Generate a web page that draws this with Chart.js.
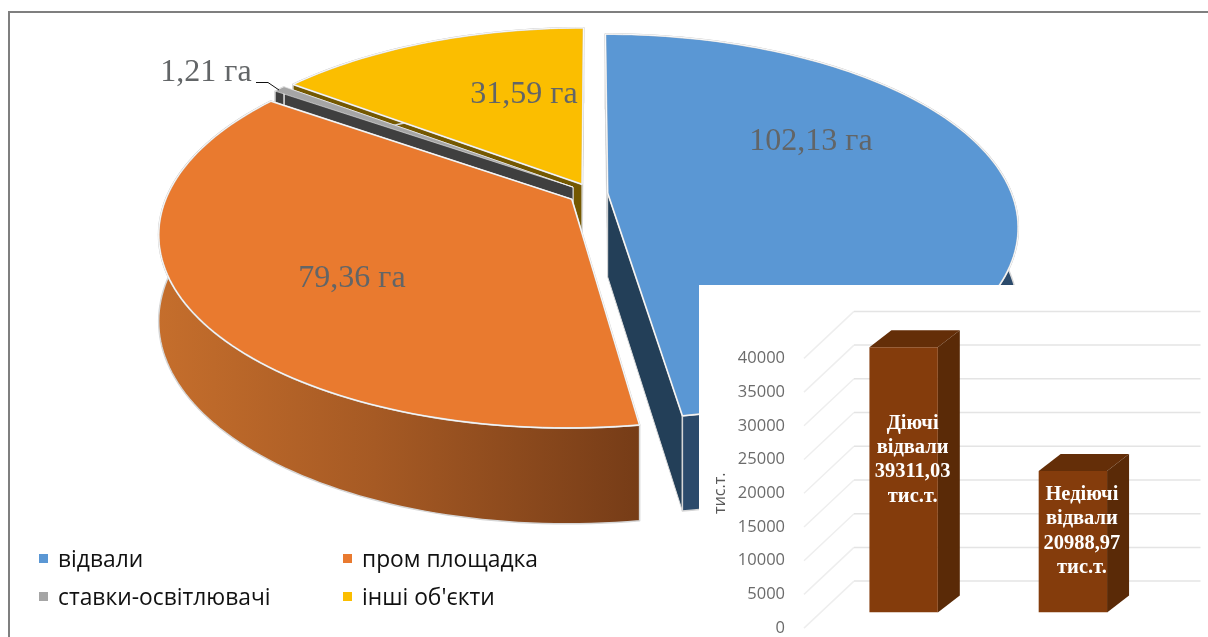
<!DOCTYPE html>
<html>
<head>
<meta charset="utf-8">
<script src="https://cdn.jsdelivr.net/npm/chart.js@4"></script>
<style>
    html, body { margin: 0; padding: 0; background: #fff; }
    #stage { position: relative; width: 1208px; height: 637px; overflow: hidden; background: #fff; }
    #frame { position: absolute; left: 8px; top: 11px; right: -4px; bottom: -4px; border: 2px solid #7f7f7f; }
    #pieChart { position: absolute; left: 0; top: 0; }
    #insetBox { position: absolute; left: 699px; top: 285px; width: 509px; height: 352px; background: #fff; }
    #dumpChart { filter: blur(0.7px); }
    .legend-item { position: absolute; font: 22.8px "Open Sans", sans-serif; color: #111; white-space: nowrap; line-height: 26px; }
    .legend-item i { position: absolute; left: -19px; top: 8px; width: 9px; height: 9px; }
</style>
</head>
<body>
<div id="stage">
    <div id="frame"></div>
    <canvas id="pieChart" width="1208" height="637"></canvas>
    <div id="legend"></div>
    <div id="insetBox"><canvas id="dumpChart" width="509" height="364"></canvas></div>
</div>
<script>
// Land use, hectares
const landCategories = ['відвали', 'пром площадка', 'ставки-освітлювачі', 'інші об\'єкти'];
const landAreas = [102.13, 79.36, 1.21, 31.59];
const landColors = ['#5a97d4', '#e97a2f', '#a5a5a5', '#fbbe00'];
const landWalls = ['#233f58', '#7a3e18', '#3f3f3f', '#745800'];
const sliceOffsets = [12, 18, 18, 17];

// Waste dumps, thousand tonnes
const dumpCategories = ['Діючі', 'Недіючі'];
const dumpTonnage = [39311.03, 20988.97];
const dumpCaptions = [['Діючі', 'відвали', '39311,03', 'тис.т.'], ['Недіючі', 'відвали', '20988,97', 'тис.т.']];
const tonnageTicks = [0, 5000, 10000, 15000, 20000, 25000, 30000, 35000, 40000];

const serif = '"Liberation Serif", serif';

// Perspective of the tilted pie: unit disc coords -> canvas pixels
const view = { x: 592, y: 193.5, a: 404, b: 186.7, k: 0.174, depth: 84, depthK: 0.12 };
function project(u, v, lowered) {
    const w = 1 - view.k * v;
    return {
        x: view.x + view.a * u / w,
        y: view.y + view.b * v / w + (lowered ? view.depth / (1 - view.depthK * v) : 0)
    };
}

// Outline of one slice in disc coords, chart.js angles start at -PI/2
function sliceShape(arc) {
    const r = arc.outerRadius;
    const mid = (arc.startAngle + arc.endAngle) / 2;
    const shift = (arc.options.offset || 0) / r;
    const ox = Math.cos(mid) * shift, oy = Math.sin(mid) * shift;
    const rim = [];
    const steps = Math.max(2, Math.ceil((arc.endAngle - arc.startAngle) * 40));
    for (let i = 0; i <= steps; i++) {
        const t = arc.startAngle + (arc.endAngle - arc.startAngle) * i / steps;
        rim.push([ox + Math.cos(t), oy + Math.sin(t)]);
    }
    return { apex: [ox, oy], rim: rim };
}

function tracePoints(ctx, pts) {
    ctx.beginPath();
    pts.forEach((p, i) => i ? ctx.lineTo(p.x, p.y) : ctx.moveTo(p.x, p.y));
}

function fillQuad(ctx, a, b, fill) {
    tracePoints(ctx, [project(a[0], a[1]), project(b[0], b[1]), project(b[0], b[1], true), project(a[0], a[1], true)]);
    ctx.closePath();
    ctx.fillStyle = fill;
    ctx.fill();
    ctx.strokeStyle = '#dcdcdc';
    ctx.lineWidth = 1;
    ctx.stroke();
}

function rimFill(ctx, index) {
    if (index !== 1) return landWalls[index];
    const g = ctx.createLinearGradient(158, 0, 640, 0);
    g.addColorStop(0, '#c56e2c');
    g.addColorStop(0.45, '#a65a24');
    g.addColorStop(1, '#763c17');
    return g;
}

function drawSlice(ctx, arc, index) {
    const shape = sliceShape(arc);
    const first = shape.rim[0], last = shape.rim[shape.rim.length - 1];

    // side walls
    fillQuad(ctx, shape.apex, first, landWalls[index]);
    fillQuad(ctx, shape.apex, last, landWalls[index]);

    // outer wall
    const top = shape.rim.map(p => project(p[0], p[1]));
    const bottom = shape.rim.map(p => project(p[0], p[1], true)).reverse();
    tracePoints(ctx, top.concat(bottom));
    ctx.closePath();
    ctx.fillStyle = index === 0 ? '#2b4a6b' : rimFill(ctx, index);
    ctx.fill();
    ctx.strokeStyle = '#d6d6d6';
    ctx.lineWidth = 1.5;
    ctx.stroke();

    // top face, the thin slice only gets a hairline so its colour still shows
    const thin = arc.endAngle - arc.startAngle < 0.1;
    tracePoints(ctx, [project(shape.apex[0], shape.apex[1])].concat(top));
    ctx.closePath();
    ctx.fillStyle = landColors[index];
    ctx.fill();
    ctx.lineJoin = 'round';
    if (!thin) {
        ctx.strokeStyle = '#d6d6d6';
        ctx.lineWidth = 1.8;
        ctx.stroke();
    }
    ctx.strokeStyle = '#fff';
    ctx.lineWidth = thin ? 0.5 : 0.9;
    ctx.stroke();
}

const tiltedPie = {
    id: 'tiltedPie',
    beforeDatasetsDraw(chart) {
        const arcs = chart.getDatasetMeta(0).data;
        // back slices first, the front ones cover them
        [3, 2, 0, 1].forEach(i => drawSlice(chart.ctx, arcs[i], i));
        return false;
    },
    afterDraw(chart) {
        const ctx = chart.ctx;
        const spots = chart.options.plugins.tiltedPie.labelSpots;
        ctx.save();
        ctx.font = '32px ' + serif;
        ctx.fillStyle = '#626567';
        ctx.textAlign = 'center';
        ctx.textBaseline = 'middle';
        landAreas.forEach((area, i) => {
            ctx.fillText(area.toFixed(2).replace('.', ',') + ' га', spots[i][0], spots[i][1]);
        });
        // leader of the smallest slice
        ctx.strokeStyle = '#111';
        ctx.lineWidth = 1;
        ctx.beginPath();
        ctx.moveTo(256, 82.5);
        ctx.lineTo(268, 82.5);
        ctx.lineTo(279, 90);
        ctx.stroke();
        ctx.restore();
    }
};

new Chart(document.getElementById('pieChart'), {
    type: 'pie',
    data: {
        labels: landCategories,
        datasets: [{ data: landAreas, backgroundColor: landColors, offset: sliceOffsets }]
    },
    options: {
        responsive: false,
        animation: false,
        plugins: {
            legend: { display: false },
            tooltip: { enabled: false },
            tiltedPie: { labelSpots: [[811, 142], [352, 279], [206, 73], [524, 95]] }
        }
    },
    plugins: [tiltedPie]
});

// Legend sits under the pie in two columns
const legendCells = [[58, 546], [362, 546], [58, 584], [362, 584]];
const legendBox = document.getElementById('legend');
landCategories.forEach((name, i) => {
    const item = document.createElement('div');
    item.className = 'legend-item';
    item.style.left = legendCells[i][0] + 'px';
    item.style.top = legendCells[i][1] + 'px';
    item.innerHTML = `<i style="background:${landColors[i]}"></i>${name}`;
    legendBox.appendChild(item);
});

// Depth of the column chart room and of the columns
const room = { dx: 50, dy: 47 };
const column = { dx: 22, dy: 17, shiftX: 15, shiftY: 15.7 };

const columnRoom = {
    id: 'columnRoom',
    beforeDatasetsDraw(chart) {
        const ctx = chart.ctx, yScale = chart.scales.y, area = chart.chartArea;
        ctx.save();
        ctx.lineWidth = 1.5;
        tonnageTicks.forEach(t => {
            const y = yScale.getPixelForValue(t);
            ctx.strokeStyle = '#eeeeee';
            ctx.beginPath();
            ctx.moveTo(area.left, y);
            ctx.lineTo(area.left + room.dx, y - room.dy);
            ctx.stroke();
            ctx.strokeStyle = '#e4e4e4';
            ctx.beginPath();
            ctx.moveTo(area.left + room.dx, y - room.dy);
            ctx.lineTo(area.right + 58, y - room.dy);
            ctx.stroke();
        });
        ctx.restore();

        // sides and tops behind the front faces
        chart.getDatasetMeta(0).data.forEach(bar => {
            const left = bar.x - bar.width / 2 + column.shiftX;
            const right = bar.x + bar.width / 2 + column.shiftX;
            const top = bar.y - column.shiftY;
            const base = bar.base - column.shiftY;
            ctx.fillStyle = '#642e08';
            ctx.beginPath();
            ctx.moveTo(left, top);
            ctx.lineTo(left + column.dx, top - column.dy);
            ctx.lineTo(right + column.dx, top - column.dy);
            ctx.lineTo(right, top);
            ctx.closePath();
            ctx.fill();
            ctx.fillStyle = '#5a2a07';
            ctx.beginPath();
            ctx.moveTo(right, top);
            ctx.lineTo(right + column.dx, top - column.dy);
            ctx.lineTo(right + column.dx, base - column.dy);
            ctx.lineTo(right, base);
            ctx.closePath();
            ctx.fill();
        });
        ctx.save();
        ctx.translate(column.shiftX, -column.shiftY);
    },
    afterDatasetsDraw(chart) {
        const ctx = chart.ctx;
        ctx.restore();
        ctx.save();
        ctx.font = 'bold 20.5px ' + serif;
        ctx.fillStyle = '#fff';
        ctx.textAlign = 'center';
        ctx.textBaseline = 'middle';
        chart.getDatasetMeta(0).data.forEach((bar, i) => {
            const midY = bar.y - column.shiftY + (bar.base - bar.y) * 0.425;
            const lines = dumpCaptions[i];
            lines.forEach((line, n) => {
                ctx.fillText(line, bar.x + column.shiftX + 9, midY + (n - 1.5) * 24.4);
            });
        });
        ctx.restore();
    }
};

new Chart(document.getElementById('dumpChart'), {
    type: 'bar',
    data: {
        labels: dumpCategories,
        datasets: [{
            data: dumpTonnage,
            backgroundColor: '#843c0c',
            barPercentage: 0.404,
            categoryPercentage: 1
        }]
    },
    options: {
        responsive: false,
        animation: false,
        layout: { padding: { left: 12, right: 65.5, top: 73.4, bottom: 10.3 } },
        plugins: { legend: { display: false }, tooltip: { enabled: false } },
        scales: {
            x: { display: false },
            y: {
                min: 0,
                max: 40000,
                afterFit: scale => { scale.width = 93; },
                grid: { display: false },
                border: { display: false },
                title: { display: true, text: 'тис.т.', color: '#595959', font: { size: 16, family: '"Open Sans", sans-serif' }, padding: 0 },
                ticks: {
                    stepSize: 5000,
                    padding: 11,
                    color: '#6b6b6b',
                    font: { size: 16.5, family: '"Open Sans", sans-serif' },
                    callback: value => String(value)
                }
            }
        }
    },
    plugins: [columnRoom]
});
</script>
</body>
</html>
